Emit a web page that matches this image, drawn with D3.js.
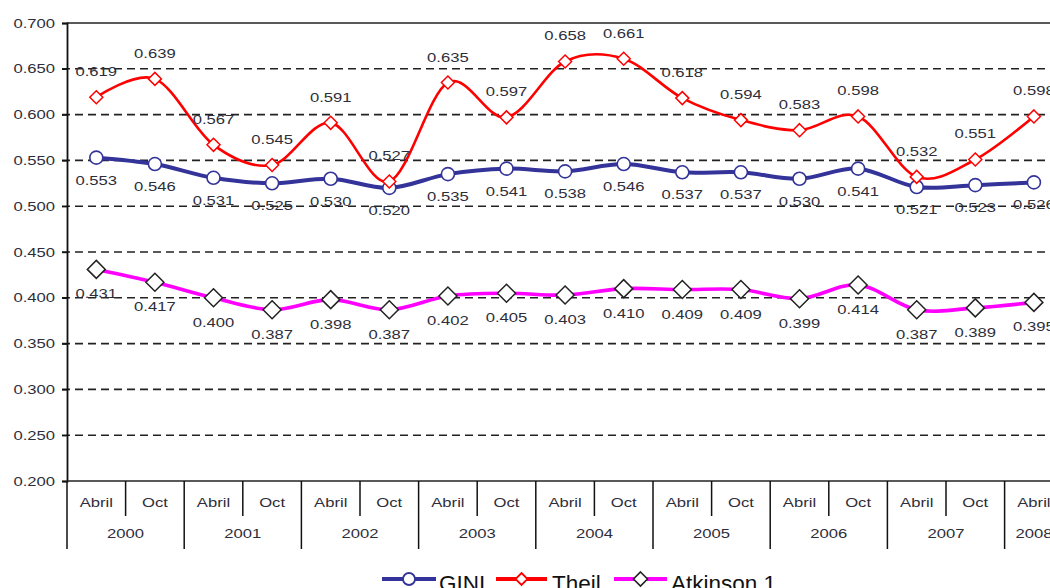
<!DOCTYPE html>
<html><head><meta charset="utf-8">
<script src="https://cdn.jsdelivr.net/npm/d3@7"></script>
<style>html,body{margin:0;padding:0;background:#fff;overflow:hidden}</style>
</head><body>
<svg id="chart" width="1050" height="588"></svg>
<script>
const periods = ["Abril","Oct","Abril","Oct","Abril","Oct","Abril","Oct","Abril","Oct","Abril","Oct","Abril","Oct","Abril","Oct","Abril"];
const years = ["2000","2001","2002","2003","2004","2005","2006","2007","2008"];
const gini = [0.553,0.546,0.531,0.525,0.530,0.520,0.535,0.541,0.538,0.546,0.537,0.537,0.530,0.541,0.521,0.523,0.526];
const theil = [0.619,0.639,0.567,0.545,0.591,0.527,0.635,0.597,0.658,0.661,0.618,0.594,0.583,0.598,0.532,0.551,0.598];
const atkinson = [0.431,0.417,0.400,0.387,0.398,0.387,0.402,0.405,0.403,0.410,0.409,0.409,0.399,0.414,0.387,0.389,0.395];
const yTicks = [0.200,0.250,0.300,0.350,0.400,0.450,0.500,0.550,0.600,0.650,0.700];
const seriesNames = ["GINI","Theil","Atkinson 1"];

(function(){
const svg = d3.select("#chart");
const left = 67, topY = 23, bottom = 481, slot = 58.6;
const idx = d3.range(periods.length);
const x = d3.scaleBand().domain(idx).range([left, left + slot * periods.length]).padding(0);
const y = d3.scaleLinear().domain([0.2, 0.7]).range([bottom, topY]);
const cx = i => x(i) + x.bandwidth() / 2;
const txtCol = "#2e2e3a";
const SX = 1.28;

function stretchedText(g, tx, ty, str, size, anchor) {
  return g.append("text")
    .attr("transform", `translate(${tx},${ty}) scale(${SX},1)`)
    .attr("text-anchor", anchor || "middle")
    .attr("font-family", "Liberation Sans, Arial, sans-serif")
    .attr("font-size", size)
    .attr("fill", txtCol)
    .text(str);
}

// gridlines
const grid = svg.append("g");
yTicks.forEach(v => {
  if (v === 0.2 || v === 0.7) return;
  grid.append("line").attr("x1", left - 5).attr("x2", 1050).attr("y1", y(v)).attr("y2", y(v))
    .attr("stroke", "#222").attr("stroke-width", 1.6).attr("stroke-dasharray", "8,5");
});
svg.append("line").attr("x1", left).attr("x2", 1050).attr("y1", y(0.7)).attr("y2", y(0.7))
  .attr("stroke", "#222").attr("stroke-width", 1.6);

// y axis
const yAxis = d3.axisLeft(y).tickValues(yTicks).tickSize(5).tickFormat(d3.format(".3f"));
const yg = svg.append("g").attr("transform", `translate(${left},0)`).call(yAxis);
yg.select(".domain").attr("stroke", "#111").attr("stroke-width", 1.8);
yg.selectAll(".tick line").attr("stroke", "#111").attr("stroke-width", 1.4);
yg.selectAll(".tick text").remove();
yTicks.forEach(v => stretchedText(svg, 55, y(v) + 4.5, d3.format(".3f")(v), 13, "end"));

// x axis
svg.append("line").attr("x1", left).attr("x2", 1050).attr("y1", bottom).attr("y2", bottom)
  .attr("stroke", "#222").attr("stroke-width", 1.6);
const xg = svg.append("g");
idx.forEach(i => {
  stretchedText(xg, cx(i), 507, periods[i], 13, "middle");
  if (i % 2 === 1) {
    xg.append("line").attr("x1", x(i)).attr("x2", x(i)).attr("y1", bottom).attr("y2", 516)
      .attr("stroke", "#111").attr("stroke-width", 1.5);
  }
});
years.forEach((yr, k) => {
  const x0 = x(k * 2);
  xg.append("line").attr("x1", x0).attr("x2", x0).attr("y1", bottom).attr("y2", 549)
    .attr("stroke", "#111").attr("stroke-width", 1.5);
  const xc = k * 2 + 1 < periods.length ? x(k * 2) + slot : cx(k * 2);
  stretchedText(xg, xc, 538, yr, 13, "middle");
});

// series
const line = d3.line().x((d, i) => cx(i)).y(d => y(d)).curve(d3.curveCatmullRom.alpha(0));
const diamond = s => `M0,${-s}L${s},0L0,${s}L${-s},0Z`;

svg.append("path").datum(atkinson).attr("d", line).attr("fill", "none")
  .attr("stroke", "#ff00ff").attr("stroke-width", 3.6);
svg.append("path").datum(gini).attr("d", line).attr("fill", "none")
  .attr("stroke", "#333399").attr("stroke-width", 4);
svg.append("path").datum(theil).attr("d", line).attr("fill", "none")
  .attr("stroke", "#ff0000").attr("stroke-width", 2.6);

atkinson.forEach((v, i) => {
  svg.append("path").attr("d", diamond(9)).attr("transform", `translate(${cx(i)},${y(v)})`)
    .attr("fill", "#fff").attr("stroke", "#222").attr("stroke-width", 1.5);
  stretchedText(svg, cx(i), y(v) + 29, d3.format(".3f")(v), 13, "middle");
});
gini.forEach((v, i) => {
  svg.append("circle").attr("cx", cx(i)).attr("cy", y(v)).attr("r", 6.5)
    .attr("fill", "#fff").attr("stroke", "#333399").attr("stroke-width", 1.6);
  stretchedText(svg, cx(i), y(v) + 27, d3.format(".3f")(v), 13, "middle");
});
theil.forEach((v, i) => {
  svg.append("path").attr("d", diamond(6.5)).attr("transform", `translate(${cx(i)},${y(v)})`)
    .attr("fill", "#fff").attr("stroke", "#ff0000").attr("stroke-width", 1.5);
  stretchedText(svg, cx(i), y(v) - 21, d3.format(".3f")(v), 13, "middle");
});

// legend
const lg = svg.append("g");
const legendItems = [
  {name: seriesNames[0], color: "#333399", x1: 382, x2: 436, tx: 439, mark: "circle"},
  {name: seriesNames[1], color: "#ff0000", x1: 496, x2: 547, tx: 552, mark: "theil"},
  {name: seriesNames[2], color: "#ff00ff", x1: 614, x2: 667, tx: 671, mark: "atk"}
];
const ly = 579;
legendItems.forEach(it => {
  lg.append("line").attr("x1", it.x1).attr("x2", it.x2).attr("y1", ly).attr("y2", ly)
    .attr("stroke", it.color).attr("stroke-width", 4);
  const mx = (it.x1 + it.x2) / 2;
  if (it.mark === "circle") {
    lg.append("circle").attr("cx", mx).attr("cy", ly).attr("r", 6).attr("fill", "#fff")
      .attr("stroke", it.color).attr("stroke-width", 1.8);
  } else if (it.mark === "theil") {
    lg.append("path").attr("d", diamond(6)).attr("transform", `translate(${mx},${ly})`)
      .attr("fill", "#fff").attr("stroke", it.color).attr("stroke-width", 1.8);
  } else {
    lg.append("path").attr("d", diamond(7)).attr("transform", `translate(${mx},${ly})`)
      .attr("fill", "#fff").attr("stroke", "#222").attr("stroke-width", 1.6);
  }
  lg.append("text").attr("x", it.tx).attr("y", ly + 12)
    .attr("font-family", "Liberation Sans, Arial, sans-serif").attr("font-size", 22.5)
    .attr("fill", "#111").text(it.name);
});
})();
</script>
</body></html>
